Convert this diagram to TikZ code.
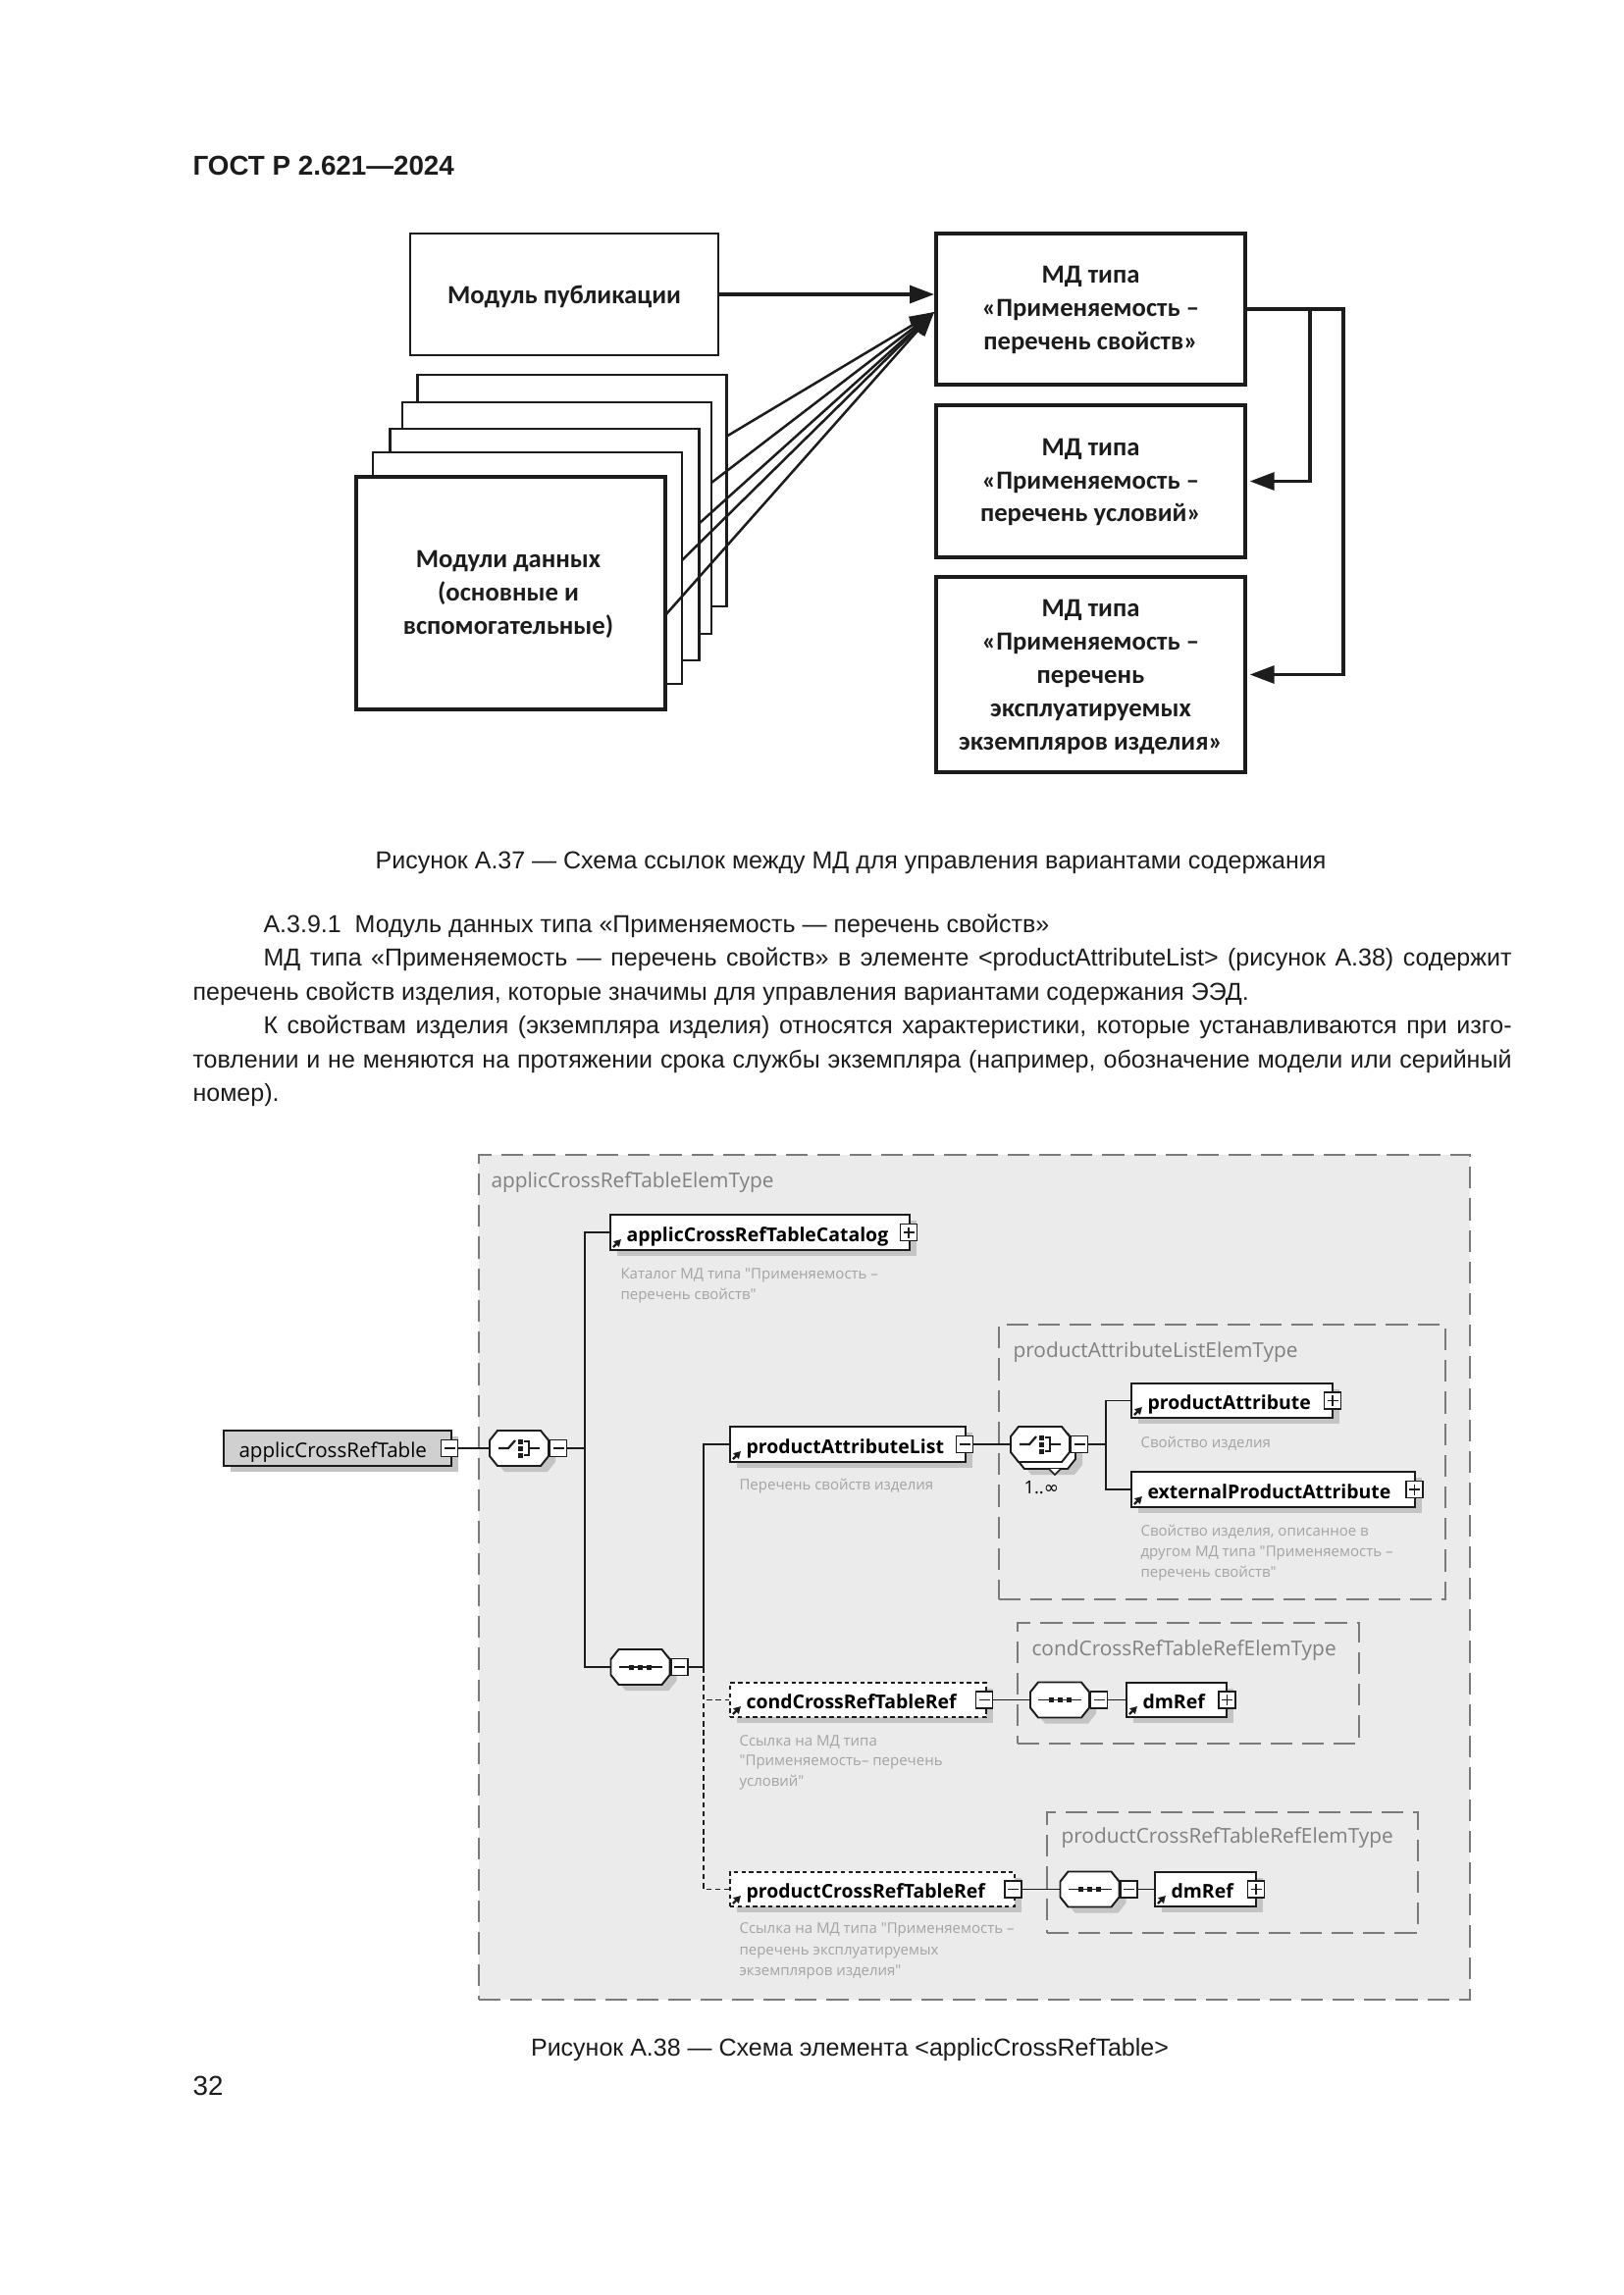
\documentclass[tikz,border=0pt]{standalone}
\usepackage{fontspec}
\setmainfont{Liberation Sans}
\newfontfamily\calfont{Carlito}
\newfontfamily\segfont{Open Sans}
\newfontfamily\djfont{DejaVu Sans}
\usetikzlibrary{arrows.meta,shadows}
\definecolor{ink}{HTML}{1C1C1C}
\definecolor{xbg}{HTML}{EBEBEB}
\definecolor{xdash}{HTML}{7A7A7A}
\definecolor{xtitle}{HTML}{808080}
\definecolor{xdesc}{HTML}{A3A3A3}
\definecolor{xshadow}{HTML}{C4C4C4}
\definecolor{xroot}{HTML}{D0D0D0}
\def\pxu{0.36pt}
\tikzset{
  pbox/.style={draw=ink,line width=1pt,fill=white,inner sep=0pt},
  mdbox/.style={draw=ink,line width=1.7pt,fill=white,inner sep=0pt},
  dtext/.style={font=\calfont\bfseries\fontsize{9.6}{12.2}\selectfont,align=center,text=ink,inner sep=0pt},
  refarrow/.style={draw=ink,line width=1.1pt,-{Triangle[length=9pt,width=6.5pt]}},
  stackarrow/.style={draw=ink,line width=0.9pt,-{Triangle[length=9pt,width=6.5pt]}},
  bodytext/.style={font=\fontsize{9.0}{12.4}\selectfont,text=ink,inner sep=0pt,anchor=base west},
  typebox/.style={draw=xdash,line width=0.7pt,dash pattern=on 8pt off 3.6pt,inner sep=0pt},
  ttitle/.style={font=\segfont\fontsize{7.5}{9}\selectfont,text=xtitle,inner sep=0pt,anchor=base west},
  elbox/.style={draw=ink,line width=0.7pt,fill=white,inner sep=0pt,
     drop shadow={shadow xshift=2.6pt,shadow yshift=-2.2pt,fill=xshadow,opacity=1}},
  ellabel/.style={font=\segfont\bfseries\fontsize{7.0}{9}\selectfont,text=black,inner sep=0pt},
  optional/.style={dash pattern=on 1.6pt off 1.2pt},
  pmb/.style={draw=ink,line width=0.6pt,fill=white,inner sep=0pt,minimum width=17*\pxu,minimum height=17*\pxu},
  desc/.style={font=\segfont\fontsize{5.4}{7.6}\selectfont,text=xdesc,inner sep=0pt,anchor=base west},
  xline/.style={draw=ink,line width=0.7pt},
  xdline/.style={draw=ink,line width=0.7pt,dash pattern=on 2pt off 1.3pt},
  anchorbox/.style={inner sep=0pt,minimum width=60*\pxu,minimum height=36*\pxu},
}
% plus / minus box
\newcommand\pmbox[4]{%
  \node[pmb] (#1) at (#2,#3) {};
  \draw[line width=0.6pt,ink] (#2-5.5,#3) -- (#2+5.5,#3);
  \ifnum#4=1\relax\draw[line width=0.6pt,ink] (#2,#3-5.5) -- (#2,#3+5.5);\fi}
% element box
\newcommand\xelem[7]{%
  \node[elbox,#7,minimum width={(#4-#2)*\pxu},minimum height={(#5-#3)*\pxu}] (#1) at ({(#2+#4)/2},{(#3+#5)/2}) {};
  \node[ellabel,anchor=base west] (#1-l) at (#2+16,#5-9) {#6};
  \draw[ink,line width=0.8pt,-{Triangle[length=2.6pt,width=2.8pt]}] (#2+3,#5-3) -- (#2+11,#5-11);}
% octagon path
\newcommand\octa[3]{\path[#3] (#1-30,#2-8) -- (#1-22,#2-18) -- (#1+22,#2-18) -- (#1+30,#2-8) -- (#1+30,#2+8) -- (#1+22,#2+18) -- (#1-22,#2+18) -- (#1-30,#2+8) -- cycle;}
% compositor: name cx cy type(1=choice,0=sequence) shadowstyle
\newcommand\xcomp[5]{%
  \octa{#2+7}{#3+6}{#5}
  \octa{#2}{#3}{draw=ink,fill=white,line width=0.7pt}
  \node[anchorbox] (#1) at (#2,#3) {};
  \ifnum#4=1\relax
    \draw[ink,line width=0.8pt] (#2-21,#3) -- (#2-11,#3) -- (#2-4,#3-8);
    \fill[ink] (#2-1,#3-9.5) rectangle (#2+4,#3-4.5);
    \fill[ink] (#2-1,#3-2.5) rectangle (#2+4,#3+2.5);
    \fill[ink] (#2-1,#3+4.5) rectangle (#2+4,#3+9.5);
    \draw[ink,line width=0.8pt] (#2+5,#3-7) -- (#2+10,#3-7) -- (#2+10,#3+7) -- (#2+5,#3+7);
    \draw[ink,line width=0.8pt] (#2+10,#3) -- (#2+21,#3);
  \else
    \draw[ink,line width=0.7pt] (#2-22,#3) -- (#2+22,#3);
    \fill[ink] (#2-11.5,#3-2.5) rectangle (#2-6.5,#3+2.5);
    \fill[ink] (#2-2.5,#3-2.5) rectangle (#2+2.5,#3+2.5);
    \fill[ink] (#2+6.5,#3-2.5) rectangle (#2+11.5,#3+2.5);
  \fi
  \pmbox{#1pm}{#2+40}{#3}{0}}
\begin{document}
\begin{tikzpicture}[x=0.36pt,y=-0.36pt]
\useasboundingbox (0,0) rectangle (1654,2339);
\fill[white] (0,0) rectangle (1654,2339);

% ---------- header
\node[font=\bfseries\fontsize{10}{12}\selectfont,text=ink,inner sep=0pt,anchor=base west] (hdr) at (196,178) {ГОСТ Р 2.621—2024};

% ---------- figure A.37
\node[pbox,minimum width=314*\pxu,minimum height=124*\pxu] (pub) at (575,300) {};
\node[dtext] (pubt) at (575,302) {Модуль публикации};

\node[mdbox,minimum width=315*\pxu,minimum height=154*\pxu] (md1) at (1111.5,315) {};
\node[dtext] (md1t) at (1111.5,316) {МД типа\\«Применяемость –\\перечень свойств»};
\node[mdbox,minimum width=315*\pxu,minimum height=155*\pxu] (md2) at (1111.5,490.5) {};
\node[dtext] (md2t) at (1111.5,491.5) {МД типа\\«Применяемость –\\перечень условий»};
\node[mdbox,minimum width=315*\pxu,minimum height=199*\pxu] (md3) at (1111.5,687.5) {};
\node[dtext] (md3t) at (1111.5,690) {МД типа\\«Применяемость –\\перечень\\эксплуатируемых\\экземпляров изделия»};

\node[pbox,minimum width=315*\pxu,minimum height=236*\pxu] (p1) at (583,500) {};
\node[pbox,minimum width=315*\pxu,minimum height=236*\pxu] (p2) at (567.5,528) {};
\node[pbox,minimum width=315*\pxu,minimum height=236*\pxu] (p3) at (555,555) {};
\node[pbox,minimum width=315*\pxu,minimum height=236*\pxu] (p4) at (537.5,579) {};
\node[pbox,line width=1.2pt,minimum width=315*\pxu,minimum height=237*\pxu] (p5) at (520.5,604.5) {};
\node[dtext] (p5t) at (518,606) {Модули данных\\(основные и\\вспомогательные)};

\coordinate (s1) at (740,445);
\coordinate (s2) at (725,492);
\coordinate (s3) at (713,533);
\coordinate (s4) at (695,571);
\coordinate (s5) at (678,627);
\coordinate (tip) at (952,318);
\foreach \k in {1,...,5} \draw[stackarrow] (s\k) -- (tip);
\draw[refarrow] (pub.east) -- (pub.east -| tip);

\coordinate (r1) at (1369,0);
\coordinate (r2) at (1335,0);
\draw[refarrow] (md1.east) -- (md1.east -| r1) |- ([xshift=0.85pt]md3.east);
\draw[refarrow] (md1.east -| r2) |- ([xshift=0.85pt]md2.east);

\node[bodytext,anchor=base] (cap1) at (867,885) {Рисунок А.37 — Схема ссылок между МД для управления вариантами содержания};

% ---------- body text
\node[bodytext] (b1) at (268,950) {А.3.9.1~ Модуль данных типа «Применяемость — перечень свойств»};
\node[bodytext] (b2) at (268,984.5) {\makebox[457.9pt][s]{МД типа «Применяемость — перечень свойств» в элементе <productAttributeList> (рисунок А.38) содержит}};
\node[bodytext] (b3) at (196,1019) {перечень свойств изделия, которые значимы для управления вариантами содержания ЭЭД.};
\node[bodytext] (b4) at (268,1053.5) {\makebox[457.9pt][s]{К свойствам изделия (экземпляра изделия) относятся характеристики, которые устанавливаются при изго-}};
\node[bodytext] (b5) at (196,1088) {\makebox[483.8pt][s]{товлении и не меняются на протяжении срока службы экземпляра (например, обозначение модели или серийный}};
\node[bodytext] (b6) at (196,1122.5) {номер).};

% ---------- figure A.38
\node[typebox,fill=xbg,minimum width=1010*\pxu,minimum height=861*\pxu] (t0) at (993,1607.5) {};
\node[ttitle] (t0t) at (500,1210) {applicCrossRefTableElemType};
\node[typebox,minimum width=455*\pxu,minimum height=280*\pxu] (t1) at (1245.5,1490) {};
\node[ttitle] (t1t) at (1032,1383) {productAttributeListElemType};
\node[typebox,minimum width=348*\pxu,minimum height=123*\pxu] (t2) at (1211,1715.5) {};
\node[ttitle] (t2t) at (1051,1687) {condCrossRefTableRefElemType};
\node[typebox,minimum width=378*\pxu,minimum height=123*\pxu] (t3) at (1256,1908.5) {};
\node[ttitle] (t3t) at (1081,1878) {productCrossRefTableRefElemType};

% root
\node[elbox,fill=xroot,minimum width=232*\pxu,minimum height=36*\pxu] (root) at (344,1476) {};
\node[font=\segfont\fontsize{7.4}{9}\selectfont,text=black,inner sep=0pt,anchor=base west] (rootl) at (243,1485) {applicCrossRefTable};
\pmbox{rootpm}{458}{1476}{0}

% elements
\xelem{cat}{622}{1238}{927}{1274}{applicCrossRefTableCatalog}{}
\pmbox{catpm}{926}{1256}{1}
\xelem{pal}{744}{1454}{984}{1490}{productAttributeList}{}
\pmbox{palpm}{983}{1472}{0}
\xelem{pa}{1153}{1410}{1358}{1445}{productAttribute}{}
\pmbox{papm}{1358}{1427.5}{1}
\xelem{ea}{1153}{1500}{1442}{1536}{externalProductAttribute}{}
\pmbox{eapm}{1441.5}{1518}{1}
\xelem{cond}{744}{1715}{1005}{1750}{condCrossRefTableRef}{optional}
\pmbox{condpm}{1003}{1732.5}{0}
\xelem{pcr}{744}{1908}{1034}{1943}{productCrossRefTableRef}{optional}
\pmbox{pcrpm}{1032.5}{1925.5}{0}
\xelem{dm1}{1148}{1715}{1250}{1750}{dmRef}{}
\pmbox{dmonepm}{1250.5}{1732.5}{1}
\xelem{dm2}{1177}{1908}{1280}{1943}{dmRef}{}
\pmbox{dmtwopm}{1280}{1925.5}{1}

% compositors
\xcomp{c1}{529}{1476}{1}{fill=xshadow}
\xcomp{s1}{652.5}{1699}{0}{fill=xshadow}
\octa{1073}{1485}{fill=xshadow}
\octa{1066}{1479}{draw=ink,fill=white,line width=0.7pt}
\draw[ink,line width=0.6pt,fill=white] (1069,1497) -- (1075,1503) -- (1081,1497);
\xcomp{c2}{1060}{1472}{1}{draw=none}
\node[font=\segfont\fontsize{6.6}{8}\selectfont,text=black,inner sep=0pt,anchor=base west] (c2m) at (1043,1522) {1..{\djfont ∞}};
\xcomp{s2}{1080}{1732.5}{0}{fill=xshadow}
\xcomp{s3}{1110.5}{1925.5}{0}{fill=xshadow}

% connectors
\coordinate (j1) at (596,0);
\coordinate (j2) at (717,0);
\coordinate (j3) at (1127,0);
\draw[xline] (rootpm.east) -- (c1.west);
\draw[xline] (c1pm.east) -- (c1pm.east -| j1);
\draw[xline] (cat.west) -| (j1 |- s1.west) -- (s1.west);
\draw[xline] (s1pm.east) -- (s1pm.east -| j2);
\draw[xline] (pal.west) -| (j2 |- s1pm.east);
\draw[xdline] (j2 |- s1pm.east) |- (cond.west);
\draw[xdline] (j2 |- s1pm.east) |- (pcr.west);
\draw[xline] (palpm.east) -- (c2.west);
\draw[xline] (c2pm.east) -- (c2pm.east -| j3);
\draw[xline] (pa.west) -| (j3 |- ea.west) -- (ea.west);
\draw[xline] (condpm.east) -- (s2.west);
\draw[xline] (s2pm.east) -- (dm1.west);
\draw[xline] (pcrpm.east) -- (s3.west);
\draw[xline] (s3pm.east) -- (dm2.west);

% descriptions
\node[desc] (d1a) at (632,1303) {Каталог МД типа "Применяемость –};
\node[desc] (d1b) at (632,1324) {перечень свойств"};
\node[desc] (d2a) at (753,1518) {Перечень свойств изделия};
\node[desc] (d3a) at (1162,1475) {Свойство изделия};
\node[desc] (d4a) at (1162,1565) {Свойство изделия, описанное в};
\node[desc] (d4b) at (1162,1586) {другом МД типа "Применяемость –};
\node[desc] (d4c) at (1162,1607) {перечень свойств"};
\node[desc] (d5a) at (753,1779) {Ссылка на МД типа};
\node[desc] (d5b) at (753,1799) {"Применяемость– перечень};
\node[desc] (d5c) at (753,1820) {условий"};
\node[desc] (d6a) at (753,1970) {Ссылка на МД типа "Применяемость –};
\node[desc] (d6b) at (753,1992) {перечень эксплуатируемых};
\node[desc] (d6c) at (753,2013) {экземпляров изделия"};

\node[bodytext,anchor=base] (cap2) at (866,2095) {Рисунок А.38 — Схема элемента <applicCrossRefTable>};
\node[bodytext,font=\fontsize{10}{12}\selectfont] (pg) at (196,2135) {32};
\end{tikzpicture}
\end{document}
